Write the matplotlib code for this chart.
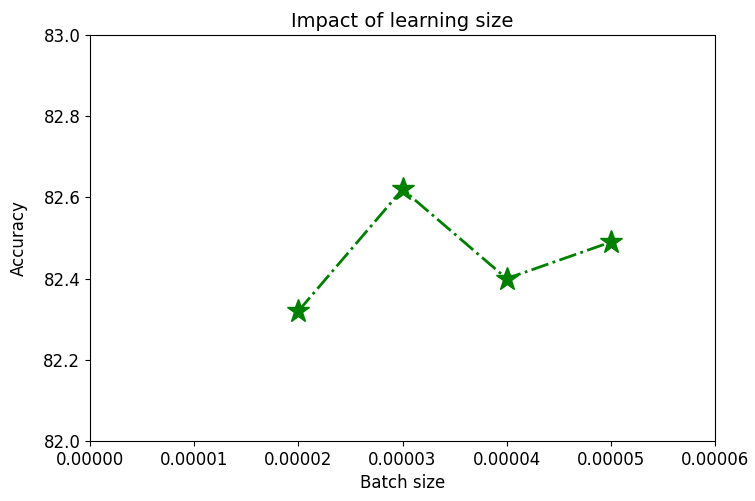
import matplotlib
matplotlib.use("Agg")
import matplotlib.pyplot as plt

# learning rate values and resulting accuracy
batch_sizes = [0.00002, 0.00003, 0.00004, 0.00005]
accuracy = [82.32, 82.62, 82.40, 82.49]

x_ticks = [0, 0.00001, 0.00002, 0.00003, 0.00004, 0.00005, 0.00006]
x_tick_labels = ['0.00000', '0.00001', '0.00002', '0.00003', '0.00004', '0.00005', '0.00006']
y_ticks = [82.0, 82.2, 82.4, 82.6, 82.8, 83.0]
y_tick_labels = ['82.0', '82.2', '82.4', '82.6', '82.8', '83.0']

plt.rcParams['font.size'] = 12

fig = plt.figure(figsize=(7.55, 5.01), dpi=100)
ax = fig.add_axes([90 / 755, 60 / 501, 625 / 755, 406 / 501])

ax.plot(batch_sizes, accuracy, color='green', linestyle='-.', linewidth=2.0,
        marker='*', markersize=17)

ax.set_xlim(0, 0.00006)
ax.set_ylim(82.0, 83.0)
ax.set_xticks(x_ticks)
ax.set_xticklabels(x_tick_labels)
ax.set_yticks(y_ticks)
ax.set_yticklabels(y_tick_labels)

ax.set_xlabel('Batch size')
ax.set_ylabel('Accuracy', labelpad=11)
ax.set_title('Impact of learning size', fontsize=14)

fig.savefig('out.png', dpi=100)
